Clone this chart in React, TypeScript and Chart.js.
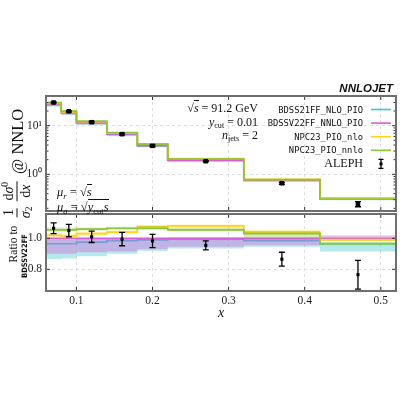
import React, { useEffect, useRef } from "react";
import { Chart, registerables } from "chart.js";

Chart.register(...registerables);

// ---------------- data ----------------
const binEdges = [0.06, 0.08, 0.1, 0.14, 0.18, 0.22, 0.32, 0.42, 0.52];
const seriesNames = ["BDSS21FF_NLO_PIO", "BDSSV22FF_NNLO_PIO", "NPC23_PIO_nlo", "NPC23_PIO_nnlo"];
const seriesColors = ["#3cc6cf", "#d55ed8", "#ffd21a", "#8cc63c"];
const bandColors = ["rgba(60,198,207,0.38)", "rgba(213,94,216,0.38)", "rgba(255,214,30,0.35)", "rgba(140,198,60,0.35)"];

// absolute distributions (top panel)
const bdss21Top = [27.2, 18.24, 11.41, 6.67, 3.88, 1.94, 0.746, 0.309];
const bdssv22Top = [28.2, 18.9, 11.7, 6.77, 3.92, 1.95, 0.757, 0.32];
const npcNloTop = [28.76, 19.18, 12.05, 7.04, 4.21, 2.11, 0.787, 0.317];
const npcNnloTop = [29.75, 19.94, 12.4, 7.21, 4.17, 2.06, 0.78, 0.309];

// ratios to BDSSV22FF (bottom panel)
const bdss21Ratio = [0.965, 0.965, 0.975, 0.985, 0.99, 0.995, 0.985, 0.965];
const bdssv22Ratio = [1.0, 1.0, 1.0, 1.0, 1.0, 1.0, 1.0, 1.0];
const npcNloRatio = [1.02, 1.015, 1.03, 1.04, 1.075, 1.08, 1.04, 0.99];
const npcNnloRatio = [1.055, 1.055, 1.06, 1.065, 1.065, 1.055, 1.03, 0.965];

// scale-variation bands (ratio units)
const bdss21BandLo = [0.865, 0.87, 0.885, 0.9, 0.92, 0.935, 0.945, 0.915];
const bdss21BandHi = [0.99, 0.99, 0.995, 1.0, 1.0, 1.005, 0.995, 0.975];
const bdssv22BandLo = [0.9, 0.9, 0.91, 0.915, 0.93, 0.945, 0.955, 0.985];
const bdssv22BandHi = [1.0, 1.0, 1.0, 1.0, 1.0, 1.0, 1.005, 1.02];
const npcNloBandLo = [1.0, 1.0, 1.015, 1.03, 1.065, 1.07, 1.03, 0.985];
const npcNloBandHi = [1.035, 1.03, 1.04, 1.05, 1.085, 1.09, 1.055, 1.0];
const npcNnloBandLo = [1.045, 1.045, 1.05, 1.055, 1.055, 1.045, 1.0, 0.955];
const npcNnloBandHi = [1.07, 1.07, 1.07, 1.075, 1.08, 1.07, 1.045, 0.975];

// ALEPH data
const alephX = [0.07, 0.09, 0.12, 0.16, 0.2, 0.27, 0.37, 0.47];
const alephTop = [30.0, 19.8, 11.8, 6.7, 3.85, 1.86, 0.655, 0.245];
const alephTopErr = [1.0, 0.7, 0.42, 0.28, 0.16, 0.055, 0.03, 0.03];
const alephRatio = [1.065, 1.05, 1.01, 0.995, 0.983, 0.954, 0.865, 0.765];
const alephRatioErr = [0.035, 0.04, 0.037, 0.043, 0.043, 0.029, 0.045, 0.093];

// ticks
const xTicks = [0.1, 0.2, 0.3, 0.4, 0.5];
const logMajorTicks = [1, 10];
const logMinorTicks = [0.2, 0.3, 0.4, 0.5, 0.6, 0.7, 0.8, 0.9, 2, 3, 4, 5, 6, 7, 8, 9, 20, 30, 40];
const ratioTicks = [0.8, 1.0];

const SERIF = '"Liberation Serif", "DejaVu Serif", serif';
const MONO = '"DejaVu Sans Mono", "Liberation Mono", monospace';

// ---------------- helpers ----------------
const stepData = (vals: number[]) => {
  const pts = vals.map((v, i) => ({ x: binEdges[i], y: v }));
  pts.push({ x: binEdges[binEdges.length - 1], y: vals[vals.length - 1] });
  return pts;
};

function buildDatasets(lines: number[][], los: number[][], his: number[][], px: number[], py: number[], pr: number) {
  const ds: any[] = [];
  ds.push({
    type: "scatter",
    data: px.map((x, i) => ({ x, y: py[i] })),
    pointStyle: "rect",
    pointRadius: pr,
    pointBackgroundColor: "#000",
    pointBorderWidth: 0,
    showLine: false,
    order: 0,
  });
  lines.forEach((vals, k) => {
    const base = 40 - k * 4;
    ds.push({
      type: "line",
      data: stepData(vals),
      stepped: "before",
      borderColor: seriesColors[k],
      borderWidth: 1.7,
      pointRadius: 0,
      fill: false,
      order: base,
    });
    ds.push({
      type: "line",
      data: stepData(los[k]),
      stepped: "before",
      borderWidth: 0,
      borderColor: "rgba(0,0,0,0)",
      pointRadius: 0,
      fill: false,
      order: base - 1,
    });
    ds.push({
      type: "line",
      data: stepData(his[k]),
      stepped: "before",
      borderWidth: 0,
      borderColor: "rgba(0,0,0,0)",
      backgroundColor: bandColors[k],
      pointRadius: 0,
      fill: "-1",
      order: base - 1,
    });
  });
  return ds;
}

const framePlugin = {
  id: "frame",
  afterDraw(chart: any, _a: any, opts: any) {
    const { ctx, chartArea: a, scales } = chart;
    const seg = (x1: number, y1: number, x2: number, y2: number) => {
      ctx.beginPath();
      ctx.moveTo(x1, y1);
      ctx.lineTo(x2, y2);
      ctx.stroke();
    };
    ctx.save();
    ctx.strokeStyle = "#333";
    ctx.lineWidth = 1;
    for (const v of opts.xTicks) {
      const p = scales.x.getPixelForValue(v);
      seg(p, a.bottom, p, a.bottom - 4);
      seg(p, a.top, p, a.top + 4);
    }
    for (const v of opts.yMajor) {
      const p = scales.y.getPixelForValue(v);
      seg(a.left, p, a.left + 4, p);
      seg(a.right, p, a.right - 4, p);
    }
    for (const v of opts.yMinor || []) {
      const p = scales.y.getPixelForValue(v);
      if (p < a.top || p > a.bottom) continue;
      seg(a.left, p, a.left + 2.5, p);
      seg(a.right, p, a.right - 2.5, p);
    }
    ctx.strokeStyle = "#6e6e6e";
    ctx.lineWidth = 2;
    ctx.strokeRect(a.left, a.top, a.right - a.left, a.bottom - a.top);
    ctx.restore();
  },
};

const errPlugin = {
  id: "errbars",
  afterDatasetsDraw(chart: any, _a: any, opts: any) {
    const { ctx, scales } = chart;
    ctx.save();
    ctx.strokeStyle = "#000";
    ctx.lineWidth = 1.3;
    opts.xs.forEach((xv: number, i: number) => {
      const px = scales.x.getPixelForValue(xv);
      const y1 = scales.y.getPixelForValue(opts.ys[i] - opts.errs[i]);
      const y2 = scales.y.getPixelForValue(opts.ys[i] + opts.errs[i]);
      ctx.beginPath();
      ctx.moveTo(px, y1);
      ctx.lineTo(px, y2);
      ctx.moveTo(px - 3, y1);
      ctx.lineTo(px + 3, y1);
      ctx.moveTo(px - 3, y2);
      ctx.lineTo(px + 3, y2);
      ctx.stroke();
    });
    ctx.restore();
  },
};

const legendPlugin = {
  id: "legendLines",
  afterDraw(chart: any, _a: any, opts: any) {
    const { ctx } = chart;
    ctx.save();
    opts.colors.forEach((c: string, i: number) => {
      const y = opts.y0 + i * opts.dy;
      ctx.strokeStyle = c;
      ctx.lineWidth = 1.6;
      ctx.beginPath();
      ctx.moveTo(opts.x1, y);
      ctx.lineTo(opts.x2, y);
      ctx.stroke();
    });
    const y = opts.y0 + opts.colors.length * opts.dy;
    const xm = (opts.x1 + opts.x2) / 2;
    ctx.strokeStyle = "#000";
    ctx.lineWidth = 1.3;
    ctx.beginPath();
    ctx.moveTo(xm, y - 4.5);
    ctx.lineTo(xm, y + 4.5);
    ctx.moveTo(xm - 2.5, y - 4.5);
    ctx.lineTo(xm + 2.5, y - 4.5);
    ctx.moveTo(xm - 2.5, y + 4.5);
    ctx.lineTo(xm + 2.5, y + 4.5);
    ctx.stroke();
    ctx.fillStyle = "#000";
    ctx.fillRect(xm - 1.5, y - 1.5, 3, 3);
    ctx.restore();
  },
};

const gridOpts = { color: "#dedede", drawTicks: false, lineWidth: 1 };
const borderOpts = { display: false, dash: [3, 3] };
const tickFont = { family: "Liberation Serif", size: 11.5 };

// ---------------- component ----------------
export default function App() {
  const topRef = useRef<HTMLCanvasElement | null>(null);
  const botRef = useRef<HTMLCanvasElement | null>(null);

  useEffect(() => {
    const ref = bdssv22Top;
    const topLines = [bdss21Top, bdssv22Top, npcNloTop, npcNnloTop];
    const ratioLos = [bdss21BandLo, bdssv22BandLo, npcNloBandLo, npcNnloBandLo];
    const ratioHis = [bdss21BandHi, bdssv22BandHi, npcNloBandHi, npcNnloBandHi];
    const topLos = ratioLos.map((arr) => arr.map((r, i) => r * ref[i]));
    const topHis = ratioHis.map((arr) => arr.map((r, i) => r * ref[i]));

    const top = new Chart(topRef.current as HTMLCanvasElement, {
      type: "line",
      data: { datasets: buildDatasets(topLines, topLos, topHis, alephX, alephTop, 3.2) },
      options: {
        animation: false,
        responsive: false,
        events: [],
        layout: { padding: { left: 0, right: 2, top: 96, bottom: 0 } },
        scales: {
          x: {
            type: "linear",
            min: 0.06,
            max: 0.52,
            afterBuildTicks: (s: any) => {
              s.ticks = xTicks.map((v) => ({ value: v }));
            },
            afterFit: (s: any) => {
              s.height = 189;
            },
            ticks: { display: false },
            grid: gridOpts,
            border: borderOpts,
          },
          y: {
            type: "logarithmic",
            min: 0.176,
            max: 40.8,
            afterBuildTicks: (s: any) => {
              s.ticks = logMajorTicks.map((v) => ({ value: v }));
            },
            afterFit: (s: any) => {
              s.width = 46;
            },
            ticks: {
              font: tickFont,
              color: "#222",
              padding: 4,
              callback: (v: any) => (v === 10 ? "10¹" : v === 1 ? "10⁰" : ""),
            },
            grid: gridOpts,
            border: borderOpts,
          },
        },
        plugins: {
          legend: { display: false },
          tooltip: { enabled: false },
          frame: { xTicks, yMajor: logMajorTicks, yMinor: logMinorTicks },
          errbars: { xs: alephX, ys: alephTop, errs: alephTopErr },
          legendLines: { colors: seriesColors, x1: 371, x2: 391, y0: 109.5, dy: 13.6 },
        } as any,
      },
      plugins: [framePlugin, errPlugin, legendPlugin],
    } as any);

    const ratioLines = [bdss21Ratio, bdssv22Ratio, npcNloRatio, npcNnloRatio];
    const bot = new Chart(botRef.current as HTMLCanvasElement, {
      type: "line",
      data: { datasets: buildDatasets(ratioLines, ratioLos, ratioHis, alephX, alephRatio, 2.2) },
      options: {
        animation: false,
        responsive: false,
        events: [],
        layout: { padding: { left: 0, right: 2, top: 214, bottom: 0 } },
        scales: {
          x: {
            type: "linear",
            min: 0.06,
            max: 0.52,
            afterBuildTicks: (s: any) => {
              s.ticks = xTicks.map((v) => ({ value: v }));
            },
            afterFit: (s: any) => {
              s.height = 109;
            },
            ticks: {
              font: tickFont,
              color: "#222",
              padding: 3,
              maxRotation: 0,
              callback: (v: any) => Number(v).toFixed(1),
            },
            grid: gridOpts,
            border: borderOpts,
          },
          y: {
            type: "linear",
            min: 0.66,
            max: 1.157,
            afterBuildTicks: (s: any) => {
              s.ticks = ratioTicks.map((v) => ({ value: v }));
            },
            afterFit: (s: any) => {
              s.width = 46;
            },
            ticks: {
              font: tickFont,
              color: "#222",
              padding: 4,
              callback: (v: any) => Number(v).toFixed(1),
            },
            grid: gridOpts,
            border: borderOpts,
          },
        },
        plugins: {
          legend: { display: false },
          tooltip: { enabled: false },
          frame: { xTicks, yMajor: ratioTicks, yMinor: [] },
          errbars: { xs: alephX, ys: alephRatio, errs: alephRatioErr },
        } as any,
      },
      plugins: [framePlugin, errPlugin],
    } as any);

    return () => {
      top.destroy();
      bot.destroy();
    };
  }, []);

  const abs: React.CSSProperties = { position: "absolute", whiteSpace: "nowrap", color: "#111" };
  const sub: React.CSSProperties = { fontSize: "0.68em", verticalAlign: "-0.3em", lineHeight: 0 };
  const sup: React.CSSProperties = { fontSize: "0.68em", verticalAlign: "0.5em", lineHeight: 0 };
  const legendRowY = (i: number) => 109.5 + i * 13.6;

  const frac = (num: React.ReactNode, den: React.ReactNode) => (
    <span style={{ display: "inline-flex", flexDirection: "column", alignItems: "center", fontSize: 14, lineHeight: "14px", margin: "0 2px" }}>
      <span style={{ borderBottom: "1px solid #111", padding: "0 1px 1px" }}>{num}</span>
      <span style={{ padding: "1px 1px 0" }}>{den}</span>
    </span>
  );

  return (
    <div style={{ position: "fixed", left: 0, top: 0, width: 400, height: 400, background: "#fff", overflow: "hidden", fontFamily: SERIF }}>
      <canvas ref={topRef} width={400} height={400} style={{ position: "absolute", left: 0, top: 0 }} />
      <canvas ref={botRef} width={400} height={400} style={{ position: "absolute", left: 0, top: 0 }} />

      {/* NNLOJET tag */}
      <div style={{ ...abs, right: 7, top: 82, fontFamily: '"Liberation Sans", Arial, sans-serif', fontWeight: "bold", fontStyle: "italic", fontSize: 11.5, lineHeight: "13px" }}>
        NNLOJET
      </div>

      {/* process info */}
      <div style={{ ...abs, right: 142, top: 101, fontSize: 12, lineHeight: "14px" }}>
        √<span style={{ borderTop: "1px solid #111", fontStyle: "italic" }}>s</span> = 91.2 GeV
      </div>
      <div style={{ ...abs, right: 142, top: 115, fontSize: 12, lineHeight: "14px" }}>
        <i>y</i>
        <span style={sub}>cut</span> = 0.01
      </div>
      <div style={{ ...abs, right: 142, top: 128, fontSize: 12, lineHeight: "14px" }}>
        <i>n</i>
        <span style={sub}>jets</span> = 2
      </div>

      {/* legend labels */}
      {seriesNames.map((n, i) => (
        <div key={n} style={{ ...abs, right: 37, top: legendRowY(i) - 6, fontFamily: MONO, fontSize: 8.8, lineHeight: "12px" }}>
          {n}
        </div>
      ))}
      <div style={{ ...abs, right: 37, top: legendRowY(4) - 7.5, fontSize: 12, lineHeight: "14px" }}>ALEPH</div>

      {/* scales */}
      <div style={{ ...abs, left: 57, top: 185, fontSize: 12.5, lineHeight: "14px" }}>
        <i>μ</i>
        <span style={sub}>
          <i>r</i>
        </span>{" "}
        = √<span style={{ borderTop: "1px solid #111", fontStyle: "italic" }}>s</span>
      </div>
      <div style={{ ...abs, left: 57, top: 200, fontSize: 12.5, lineHeight: "14px" }}>
        <i>μ</i>
        <span style={sub}>
          <i>a</i>
        </span>{" "}
        = √
        <span style={{ borderTop: "1px solid #111" }}>
          <i>y</i>
          <span style={sub}>cut</span>
          <i>s</i>
        </span>
      </div>

      {/* top y title */}
      <div
        style={{
          ...abs,
          left: 17,
          top: 165,
          transform: "translate(-50%, -50%) rotate(-90deg)",
          display: "flex",
          alignItems: "center",
          fontSize: 16.5,
        }}
      >
        {frac("1", <><i>σ</i><span style={sub}>2</span></>)}
        {frac(<>d<i>σ</i><span style={sup}>0</span></>, <>d<i>x</i></>)}
        <span style={{ marginLeft: 5 }}>@ NNLO</span>
      </div>

      {/* ratio y title */}
      <div style={{ ...abs, left: 13, top: 244, transform: "translate(-50%, -50%) rotate(-90deg)", fontSize: 11.5, lineHeight: "12px" }}>
        Ratio to
      </div>
      <div
        style={{
          ...abs,
          left: 24,
          top: 256,
          transform: "translate(-50%, -50%) rotate(-90deg)",
          fontFamily: '"DejaVu Sans Condensed", "DejaVu Sans", sans-serif',
          fontWeight: "bold",
          fontSize: 7.5,
          lineHeight: "9px",
        }}
      >
        BDSSV22FF
      </div>

      {/* x title */}
      <div style={{ ...abs, left: 221, top: 313, transform: "translate(-50%, -50%)", fontSize: 14, fontStyle: "italic" }}>x</div>
    </div>
  );
}
